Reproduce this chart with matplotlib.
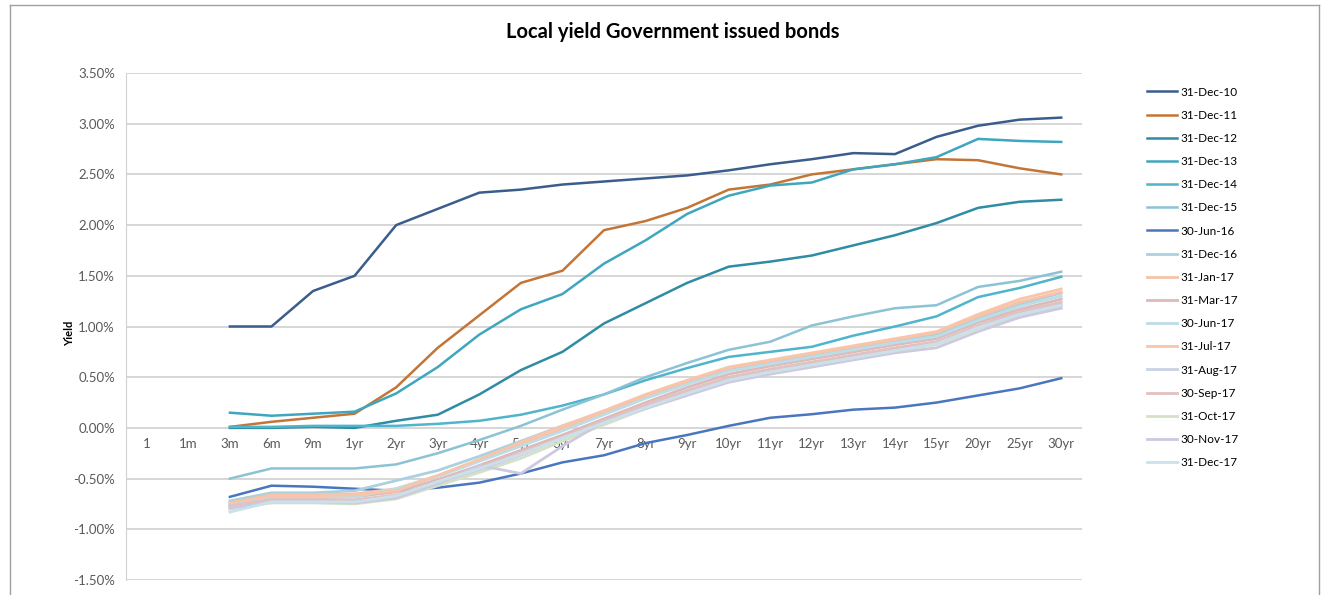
import numpy as np
import matplotlib
matplotlib.use('Agg')
import matplotlib.pyplot as plt
from matplotlib.lines import Line2D
from matplotlib.ticker import FuncFormatter

nan = np.nan
tenors = ['1', '1m', '3m', '6m', '9m', '1yr', '2yr', '3yr', '4yr', '5yr', '6yr', '7yr', '8yr',
          '9yr', '10yr', '11yr', '12yr', '13yr', '14yr', '15yr', '20yr', '25yr', '30yr']

# yields in % ; no quotes for "1" and "1m"
dec10 = [nan, nan, 1.00, 1.00, 1.35, 1.50, 2.00, 2.16, 2.32, 2.35, 2.40, 2.43, 2.46, 2.49, 2.54, 2.60, 2.65, 2.71, 2.70, 2.87, 2.98, 3.04, 3.06]
dec11 = [nan, nan, 0.01, 0.06, 0.10, 0.14, 0.40, 0.79, 1.11, 1.43, 1.55, 1.95, 2.04, 2.17, 2.35, 2.40, 2.50, 2.55, 2.60, 2.65, 2.64, 2.56, 2.50]
dec12 = [nan, nan, 0.00, 0.00, 0.01, 0.00, 0.07, 0.13, 0.33, 0.57, 0.75, 1.03, 1.23, 1.43, 1.59, 1.64, 1.70, 1.80, 1.90, 2.02, 2.17, 2.23, 2.25]
dec13 = [nan, nan, 0.15, 0.12, 0.14, 0.16, 0.34, 0.60, 0.92, 1.17, 1.32, 1.62, 1.85, 2.11, 2.29, 2.39, 2.42, 2.55, 2.60, 2.67, 2.85, 2.83, 2.82]
dec14 = [nan, nan, 0.01, 0.01, 0.02, 0.02, 0.02, 0.04, 0.07, 0.13, 0.22, 0.33, 0.47, 0.59, 0.70, 0.75, 0.80, 0.91, 1.00, 1.10, 1.29, 1.38, 1.49]
dec15 = [nan, nan, -0.50, -0.40, -0.40, -0.40, -0.36, -0.25, -0.12, 0.02, 0.18, 0.33, 0.50, 0.64, 0.77, 0.85, 1.01, 1.10, 1.18, 1.21, 1.39, 1.45, 1.54]
jun16 = [nan, nan, -0.68, -0.57, -0.58, -0.60, -0.62, -0.59, -0.54, -0.45, -0.34, -0.27, -0.15, -0.07, 0.02, 0.10, 0.135, 0.18, 0.20, 0.25, 0.32, 0.39, 0.49]
dec16 = [nan, nan, -0.72, -0.64, -0.64, -0.62, -0.52, -0.42, -0.28, -0.13, 0.02, 0.16, 0.31, 0.45, 0.57, 0.64, 0.71, 0.78, 0.85, 0.92, 1.08, 1.22, 1.33]
jan17 = [nan, nan, -0.74, -0.66, -0.66, -0.65, -0.60, -0.47, -0.32, -0.16, -0.01, 0.15, 0.31, 0.46, 0.59, 0.66, 0.73, 0.80, 0.87, 0.94, 1.10, 1.24, 1.34]
mar17 = [nan, nan, -0.76, -0.69, -0.69, -0.68, -0.63, -0.51, -0.37, -0.22, -0.07, 0.09, 0.25, 0.40, 0.53, 0.61, 0.68, 0.75, 0.82, 0.88, 1.04, 1.17, 1.27]
jun17 = [nan, nan, -0.75, -0.68, -0.68, -0.68, -0.60, -0.48, -0.33, -0.18, -0.03, 0.13, 0.29, 0.43, 0.56, 0.63, 0.70, 0.77, 0.84, 0.90, 1.06, 1.20, 1.30]
jul17 = [nan, nan, -0.74, -0.67, -0.67, -0.66, -0.62, -0.47, -0.31, -0.14, 0.02, 0.17, 0.33, 0.47, 0.60, 0.67, 0.74, 0.81, 0.88, 0.95, 1.12, 1.27, 1.37]
aug17 = [nan, nan, -0.78, -0.72, -0.72, -0.73, -0.68, -0.55, -0.42, -0.27, -0.10, 0.05, 0.21, 0.35, 0.48, 0.56, 0.63, 0.70, 0.77, 0.84, 1.00, 1.13, 1.22]
sep17 = [nan, nan, -0.77, -0.71, -0.71, -0.71, -0.66, -0.53, -0.39, -0.25, -0.09, 0.07, 0.23, 0.37, 0.50, 0.58, 0.65, 0.72, 0.79, 0.85, 1.01, 1.15, 1.24]
oct17 = [nan, nan, -0.80, -0.74, -0.74, -0.75, -0.70, -0.57, -0.44, -0.30, -0.13, 0.03, 0.19, 0.33, 0.47, 0.55, 0.62, 0.69, 0.76, 0.82, 0.98, 1.11, 1.20]
nov17 = [nan, nan, -0.79, -0.73, -0.73, -0.74, -0.69, -0.55, -0.37, -0.45, -0.18, 0.06, 0.19, 0.32, 0.45, 0.53, 0.60, 0.67, 0.74, 0.79, 0.95, 1.09, 1.18]
dec17 = [nan, nan, -0.83, -0.73, -0.73, -0.73, -0.67, -0.53, -0.40, -0.26, -0.10, 0.05, 0.20, 0.34, 0.47, 0.55, 0.62, 0.69, 0.76, 0.83, 0.99, 1.12, 1.21]

labels = ['31-Dec-10', '31-Dec-11', '31-Dec-12', '31-Dec-13', '31-Dec-14', '31-Dec-15', '30-Jun-16',
          '31-Dec-16', '31-Jan-17', '31-Mar-17', '30-Jun-17', '31-Jul-17', '31-Aug-17', '30-Sep-17',
          '31-Oct-17', '30-Nov-17', '31-Dec-17']
series = [dec10, dec11, dec12, dec13, dec14, dec15, jun16, dec16, jan17, mar17, jun17, jul17,
          aug17, sep17, oct17, nov17, dec17]
colors = ['#3B5D8C', '#C27537', '#2F8CA4', '#3FA6BF', '#4FB4CC', '#8BC3D5', '#4A76BF',
          '#A9D1E0', '#F6C3A8', '#DDBABA', '#BCDDE8', '#F8C5AB', '#CAD1E4', '#E3C1C1',
          '#D4E1C7', '#CDC9DF', '#CAE1EC']
widths = [1.8] * 7 + [2.0] * 10

plt.rcParams['font.family'] = ['Lato', 'DejaVu Sans']

fig = plt.figure(figsize=(13.23, 5.95), dpi=100)
ax = fig.add_axes([126 / 1323, 1 - 580 / 595, 956 / 1323, 507 / 595])

x = np.arange(len(tenors))
for ys, lab, c, lw in zip(series, labels, colors, widths):
    ax.plot(x, np.array(ys, dtype=float) / 100, color=c, lw=lw, label=lab)

ax.set_xlim(-0.5, len(tenors) - 0.5)
ax.set_ylim(-0.015, 0.035)
ax.set_yticks(np.arange(-0.015, 0.0351, 0.005))
ax.yaxis.set_major_formatter(FuncFormatter(lambda v, p: f'{v * 100:.2f}%'))
ax.set_xticks(x)
ax.set_xticklabels(tenors)
ax.grid(axis='y', color='#D0D0D0', lw=1.2)
ax.set_axisbelow(True)
for s in ['top', 'right', 'bottom']:
    ax.spines[s].set_visible(False)
ax.spines['left'].set_color('#D0D0D0')
ax.spines['bottom'].set_position(('data', 0))
ax.tick_params(axis='both', length=0, labelsize=9.5, labelcolor='#595959')
ax.tick_params(axis='x', pad=7)
ax.tick_params(axis='y', pad=8)

fig.text(70 / 1323, 1 - 333 / 595, 'Yield', rotation=90, fontsize=8, fontweight='bold',
         ha='center', va='center')
fig.text(673 / 1323, 1 - 32 / 595, 'Local yield Government issued bonds', fontsize=14.5,
         fontweight='bold', ha='center', va='center')

ax.legend(loc='upper left', bbox_to_anchor=(1136 / 1323, 1 - 76 / 595),
          bbox_transform=fig.transFigure, frameon=False, fontsize=8.5,
          handlelength=2.6, handletextpad=0.3, labelspacing=1.03)

# chart frame
fig.add_artist(Line2D([10 / 1323, 10 / 1323], [0, 1 - 5 / 595], color='#A0A0A0', lw=1))
fig.add_artist(Line2D([10 / 1323, 1319 / 1323], [1 - 5 / 595, 1 - 5 / 595], color='#A0A0A0', lw=1))
fig.add_artist(Line2D([1319 / 1323, 1319 / 1323], [0, 1 - 5 / 595], color='#A0A0A0', lw=1))

fig.savefig('out.png', dpi=100)
